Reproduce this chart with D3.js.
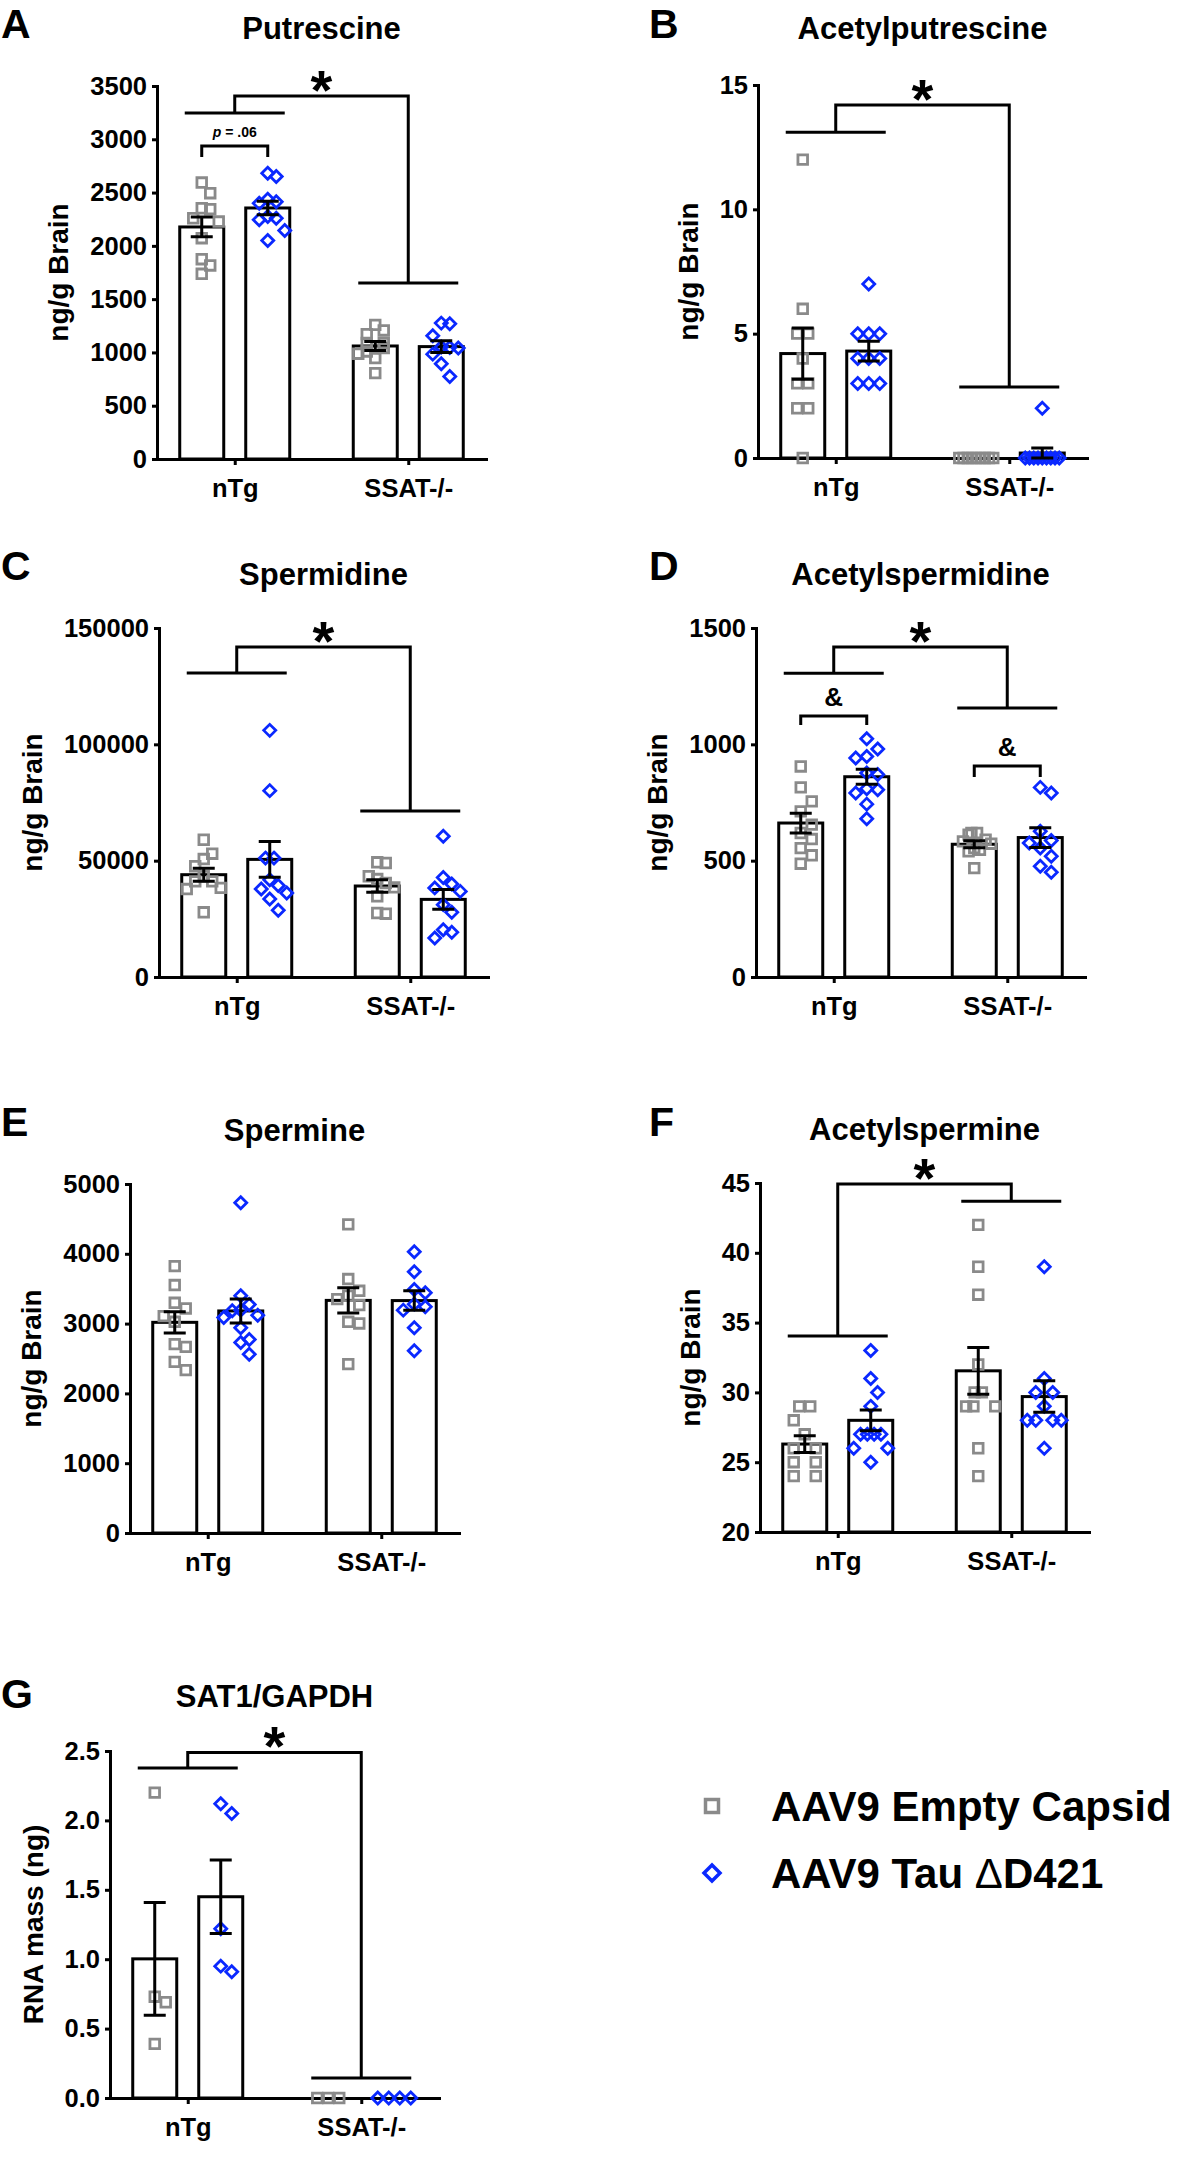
<!DOCTYPE html>
<html><head><meta charset="utf-8">
<script src="https://cdn.jsdelivr.net/npm/d3@7"></script>
<style>
body{margin:0;background:#fff}
svg{display:block}
text{font-family:"Liberation Sans",Arial,Helvetica,sans-serif;font-weight:bold;fill:#000}
</style>
</head><body>
<svg id="c" width="1181" height="2181"></svg>
<script>
// ---------- DATA ----------
const groups = ["nTg", "SSAT-/-"];
const seriesNames = ["AAV9 Empty Capsid", "AAV9 Tau \u0394D421"];

// A: Putrescine (ng/g brain)
const putEmptyNTg  = [2594, 2494, 2353, 2344, 2259, 2228, 2072, 1875, 1816, 1738];
const putTauNTg    = [2681, 2650, 2438, 2413, 2400, 2275, 2259, 2244, 2144, 2050];
const putEmptySSAT = [1259, 1206, 1172, 1088, 1088, 1041, 1009, 988, 947, 806];
const putTauSSAT   = [1275, 1269, 1156, 1050, 1047, 1041, 984, 894, 775];
const putTicks = [0, 500, 1000, 1500, 2000, 2500, 3000, 3500];

// B: Acetylputrescine
const acPutEmptyNTg  = [12, 6, 5, 5, 4, 3, 3, 2, 2, 0];
const acPutTauNTg    = [7, 5, 5, 5, 4, 4, 4, 3, 3, 3];
const acPutEmptySSAT = [0, 0, 0, 0, 0, 0, 0, 0, 0];
const acPutTauSSAT   = [2, 0, 0, 0, 0, 0, 0, 0, 0, 0];
const acPutTicks = [0, 5, 10, 15];

// C: Spermidine
const spdEmptyNTg  = [59000, 53000, 50700, 47600, 43300, 41100, 41100, 38300, 37800, 27800];
const spdTauNTg    = [106000, 80100, 51100, 51100, 41800, 39300, 37800, 36100, 33500, 28700];
const spdEmptySSAT = [49000, 49300, 43300, 42100, 40400, 38500, 34700, 27500, 27200];
const spdTauSSAT   = [60500, 42800, 40000, 38300, 36800, 31100, 27800, 20300, 19200, 16800];
const spdTicks = [0, 50000, 100000, 150000];

// D: Acetylspermidine
const acSpdEmptyNTg  = [905, 815, 755, 712, 655, 619, 593, 554, 523, 487];
const acSpdTauNTg    = [1024, 980, 948, 941, 877, 870, 809, 805, 791, 743, 680];
const acSpdEmptySSAT = [619, 619, 612, 590, 583, 573, 554, 547, 540, 468];
const acSpdTauSSAT   = [815, 791, 626, 587, 576, 554, 519, 476, 450];
const acSpdTicks = [0, 500, 1000, 1500];

// E: Spermine
const spmEmptyNTg  = [3824, 3552, 3298, 3217, 3107, 3026, 2706, 2667, 2452, 2333];
const spmTauNTg    = [4732, 3399, 3274, 3193, 3184, 3121, 3088, 2940, 2772, 2729, 2562];
const spmEmptySSAT = [4422, 3638, 3470, 3399, 3351, 3265, 3026, 3002, 2419];
const spmTauSSAT   = [4030, 3743, 3489, 3442, 3279, 3241, 3193, 2940, 2610];
const spmTicks = [0, 1000, 2000, 3000, 4000, 5000];

// F: Acetylspermine
const acSpmEmptyNTg  = [29, 29, 28, 27, 26, 26, 25, 25, 24, 24];
const acSpmTauNTg    = [33, 31, 30, 29, 27, 27, 27, 27, 26, 26, 25];
const acSpmEmptySSAT = [42, 39, 37, 32, 30, 30, 29, 29, 29, 26, 24];
const acSpmTauSSAT   = [39, 31, 30, 30, 29, 28, 28, 28, 28, 26];
const acSpmTicks = [20, 25, 30, 35, 40, 45];

// G: SAT1/GAPDH RNA mass (ng)
const satEmptyNTg  = [2.2, 0.73, 0.69, 0.39];
const satTauNTg    = [2.12, 2.05, 1.22, 0.95, 0.91];
const satEmptySSAT = [0, 0, 0];
const satTauSSAT   = [0, 0, 0, 0];
const satTicks = [0, 0.5, 1.0, 1.5, 2.0, 2.5];

// ---------- LAYOUT ----------
const COL_GREY = "#8a8a8a", COL_BLUE = "#0a28ff";
const AXIS_W = 329;
const panels = [
  {letter:"A", title:"Putrescine", ylab:"ng/g Brain", domain:[0,3500], ticks:putTicks, fmt:d3.format("d"),
   data:[[putEmptyNTg, putTauNTg],[putEmptySSAT, putTauSSAT]],
   ax:157, top:86, bottom:459, titleY:39, letterX:1, letterY:38,
   sig:{low:[3247,1651], top:3406}, pairs:[{g:0, y:2937, leg:2834, label:"p"}]},
  {letter:"B", title:"Acetylputrescine", ylab:"ng/g Brain", domain:[0,15], ticks:acPutTicks, fmt:d3.format("d"),
   data:[[acPutEmptyNTg, acPutTauNTg],[acPutEmptySSAT, acPutTauSSAT]],
   ax:758, top:85, bottom:458, titleY:39, letterX:649, letterY:38,
   sig:{low:[13.1,2.86], top:14.2}, pairs:[]},
  {letter:"C", title:"Spermidine", ylab:"ng/g Brain", domain:[0,150000], ticks:spdTicks, fmt:d3.format("d"),
   data:[[spdEmptyNTg, spdTauNTg],[spdEmptySSAT, spdTauSSAT]],
   ax:159, top:628, bottom:977, titleY:585, letterX:1, letterY:580,
   sig:{low:[130660,71346], top:141836}, pairs:[]},
  {letter:"D", title:"Acetylspermidine", ylab:"ng/g Brain", domain:[0,1500], ticks:acSpdTicks, fmt:d3.format("d"),
   data:[[acSpdEmptyNTg, acSpdTauNTg],[acSpdEmptySSAT, acSpdTauSSAT]],
   ax:756, top:628, bottom:977, titleY:585, letterX:649, letterY:580,
   sig:{low:[1306,1156], top:1418}, pairs:[{g:0,y:1122,leg:1083,label:"&"},{g:1,y:907,leg:860,label:"&"}]},
  {letter:"E", title:"Spermine", ylab:"ng/g Brain", domain:[0,5000], ticks:spmTicks, fmt:d3.format("d"),
   data:[[spmEmptyNTg, spmTauNTg],[spmEmptySSAT, spmTauSSAT]],
   ax:130, top:1184, bottom:1533, titleY:1141, letterX:1, letterY:1136,
   sig:null, pairs:[]},
  {letter:"F", title:"Acetylspermine", ylab:"ng/g Brain", domain:[20,45], ticks:acSpmTicks, fmt:d3.format("d"),
   data:[[acSpmEmptyNTg, acSpmTauNTg],[acSpmEmptySSAT, acSpmTauSSAT]],
   ax:760, top:1183, bottom:1532, titleY:1140, letterX:649, letterY:1136,
   sig:{low:[34.04,43.7], top:44.93}, pairs:[]},
  {letter:"G", title:"SAT1/GAPDH", ylab:"RNA mass (ng)", domain:[0,2.5], ticks:satTicks, fmt:d3.format(".1f"),
   data:[[satEmptyNTg, satTauNTg],[satEmptySSAT, satTauSSAT]],
   ax:110, top:1751, bottom:2098, titleY:1707, letterX:1, letterY:1708,
   sig:{low:[2.377,0.144], top:2.49}, pairs:[]}
];

const svg = d3.select("#c");
svg.append("rect").attr("width",1181).attr("height",2181).attr("fill","#fff");

// horizontal spreading of overlapping points (beeswarm)
function swarm(vals, y, hStep, vGap, maxOff){
  const pts = vals.map((v,i)=>({v, py:y(v), i}));
  const order = pts.slice().sort((a,b)=>b.v-a.v);
  const placed = [];
  for (const p of order){
    for (let k=0;;k++){
      const off = k===0 ? 0 : (k%2 ? 1 : -1)*Math.ceil(k/2)*hStep;
      if (!placed.some(q=>Math.abs(q.off-off)<hStep-0.01 && Math.abs(q.py-p.py)<vGap)){ p.off = off; break; }
    }
    placed.push(p);
  }
  d3.group(placed, p=>p.v).forEach(arr=>{
    if (arr.length>1){ const m = d3.mean(arr,p=>p.off); arr.forEach(p=>p.off-=m); }
  });
  const mx = d3.max(placed, p=>Math.abs(p.off));
  if (mx>maxOff) placed.forEach(p=>p.off *= maxOff/mx);
  return placed;
}

function drawPanel(p){
  const g = svg.append("g");
  const y = d3.scaleLinear().domain(p.domain).range([p.bottom, p.top]);
  const x = d3.scalePoint().domain(groups).range([p.ax, p.ax+AXIS_W]).padding(0.448);
  const inner = d3.scaleBand().domain([0,1]).range([-55,55]).paddingInner(1/3);
  const bw = inner.bandwidth();

  const stats = [];
  p.data.forEach((grp, gi)=>grp.forEach((vals, si)=>{
    const m = d3.mean(vals);
    const sd = d3.deviation(vals) || 0;
    const sem = sd/Math.sqrt(vals.length);
    const cx = x(groups[gi]) + inner(si) + bw/2;
    stats.push({gi, si, m, sem, cx, vals});
  }));

  // bars
  g.selectAll("rect.bar").data(stats).join("rect")
    .attr("x", d=>d.cx-bw/2).attr("y", d=>y(d.m))
    .attr("width", bw).attr("height", d=>Math.max(0, y(p.domain[0])-y(d.m)))
    .attr("fill","#fff").attr("stroke","#000").attr("stroke-width",3);

  // axes
  const yAx = g.append("g").attr("transform",`translate(${p.ax},0)`)
    .call(d3.axisLeft(y).tickValues(p.ticks).tickFormat(p.fmt).tickSize(5).tickPadding(5).tickSizeOuter(0));
  const xAx = g.append("g").attr("transform",`translate(0,${p.bottom})`)
    .call(d3.axisBottom(x).tickSize(6).tickPadding(14).tickSizeOuter(0));
  [yAx, xAx].forEach(a=>{
    a.select(".domain").attr("stroke","#000").attr("stroke-width",3).attr("stroke-linecap","square");
    a.selectAll(".tick line").attr("stroke","#000").attr("stroke-width",3);
    a.selectAll(".tick text").attr("font-size",25.5).attr("font-weight","bold").attr("fill","#000")
      .attr("font-family",'"Liberation Sans",Arial,sans-serif');
  });

  // y label
  let maxW = 0;
  yAx.selectAll(".tick text").each(function(){ maxW = Math.max(maxW, this.getBBox().width); });
  const lx = p.ax - 10 - maxW - 29, ly = (p.top+p.bottom)/2;
  g.append("text").attr("transform",`translate(${lx},${ly}) rotate(-90)`)
    .attr("text-anchor","middle").attr("dy","0.25em").attr("font-size",28).text(p.ylab);

  // points
  stats.forEach(s=>{
    const pts = swarm(s.vals, y, 11, 14, 17);
    const sel = g.selectAll(null).data(pts).join("path")
      .attr("fill","none").attr("stroke-width",2.8)
      .attr("transform", d=>`translate(${s.cx+d.off},${d.py})`);
    if (s.si===0) sel.attr("d","M-4.8,-4.8H4.8V4.8H-4.8Z").attr("stroke",COL_GREY);
    else sel.attr("d","M0,-6L6,0L0,6L-6,0Z").attr("stroke",COL_BLUE);
  });

  // error bars (mean ± SEM)
  stats.forEach(s=>{
    if (s.sem<=0) return;
    const y1 = y(s.m+s.sem), y2 = y(s.m-s.sem);
    g.append("path").attr("fill","none").attr("stroke","#000").attr("stroke-width",3)
      .attr("d",`M${s.cx},${y1}V${y2}M${s.cx-11},${y1}H${s.cx+11}M${s.cx-11},${y2}H${s.cx+11}`);
  });

  // significance annotations
  if (p.sig){
    const c0 = x(groups[0]), c1 = x(groups[1]);
    [0,1].forEach(gi=>{
      const c = x(groups[gi]);
      g.append("line").attr("x1",c-50).attr("x2",c+50)
        .attr("y1",y(p.sig.low[gi])).attr("y2",y(p.sig.low[gi]))
        .attr("stroke","#000").attr("stroke-width",3);
    });
    g.append("path").attr("fill","none").attr("stroke","#000").attr("stroke-width",3)
      .attr("d",`M${c0},${y(p.sig.low[0])}V${y(p.sig.top)}H${c1}V${y(p.sig.low[1])}`);
    g.append("text").attr("x",(c0+c1)/2).attr("y",y(p.sig.top)+13)
      .attr("text-anchor","middle").attr("font-size",56).text("*");
  }
  p.pairs.forEach(pr=>{
    const c = x(groups[pr.g]);
    const a = c + inner(0) + bw/2, b = c + inner(1) + bw/2;
    g.append("path").attr("fill","none").attr("stroke","#000").attr("stroke-width",3)
      .attr("d",`M${a},${y(pr.leg)}V${y(pr.y)}H${b}V${y(pr.leg)}`);
    if (pr.label==="p"){
      const t = g.append("text").attr("x",c).attr("y",y(pr.y)-9).attr("text-anchor","middle").attr("font-size",14);
      t.append("tspan").attr("font-style","italic").text("p");
      t.append("tspan").text(" = .06");
    } else {
      g.append("text").attr("x",c).attr("y",y(pr.y)-10).attr("text-anchor","middle").attr("font-size",26).text(pr.label);
    }
  });

  // title and panel letter
  g.append("text").attr("x", p.ax + AXIS_W/2).attr("y", p.titleY).attr("text-anchor","middle")
    .attr("font-size",31).text(p.title);
  g.append("text").attr("x", p.letterX).attr("y", p.letterY).attr("font-size",41).text(p.letter);
}

panels.forEach(drawPanel);

// legend
const leg = svg.append("g");
const legY = [1806, 1873];
seriesNames.forEach((name,i)=>{
  const m = leg.append("path").attr("fill","none").attr("stroke-width",3.5)
    .attr("transform",`translate(712,${legY[i]})`);
  if (i===0) m.attr("d","M-6.5,-6.5H6.5V6.5H-6.5Z").attr("stroke",COL_GREY);
  else m.attr("d","M0,-8L8,0L0,8L-8,0Z").attr("stroke",COL_BLUE);
  const t = leg.append("text").attr("x",771).attr("y",legY[i]+15).attr("font-size",42);
  if (i===1){
    t.append("tspan").text("AAV9 Tau ");
    t.append("tspan").attr("font-weight","normal").text("\u0394");
    t.append("tspan").text("D421");
  } else t.text(name);
});
</script>
</body></html>
